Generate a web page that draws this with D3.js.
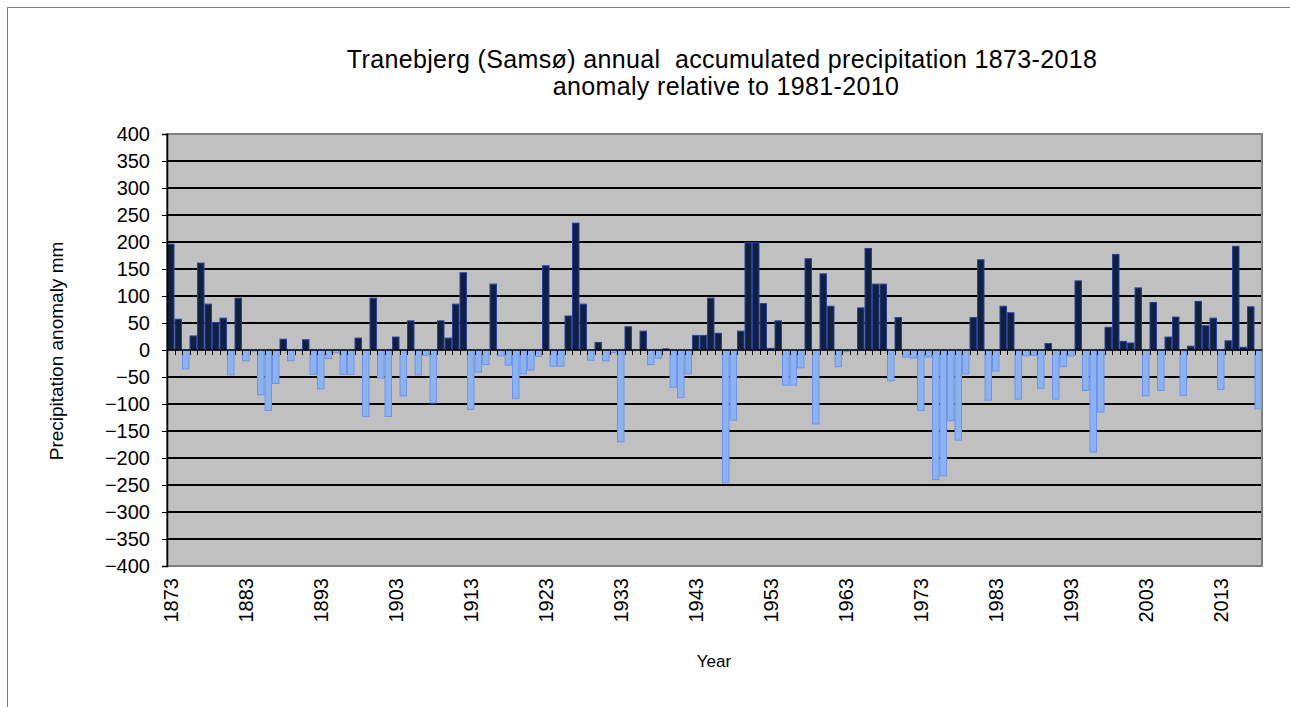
<!DOCTYPE html>
<html>
<head>
<meta charset="utf-8">
<script src="https://cdn.jsdelivr.net/npm/d3@7"></script>
<style>
  body { margin: 0; background: #fff; }
  svg text { font-family: "Liberation Sans", Arial, sans-serif; fill: #000; white-space: pre; }
</style>
</head>
<body>
<div id="chart"></div>
<script>
const firstYear = 1873;
const lastYear = 2018;

// anomaly in mm, 1873..2018
const anomalies = [
  196, 57, -35, 26, 161, 85, 51, 59, -46, 96,
  -20, -2, -83, -112, -62, 20, -20, -1, 19, -45,
  -72, -16, -5, -45, -45, 22, -123, 96, -52, -123,
  24, -85, 54, -46, -10, -98, 54, 22, 85, 143,
  -110, -41, -27, 122, -11, -28, -90, -44, -37, -12,
  156, -30, -30, 63, 235, 85, -19, 14, -20, -5,
  -170, 43, -1, 35, -27, -15, 2, -69, -88, -44,
  27, 27, 96, 31, -246, -130, 35, 199, 199, 86,
  3, 54, -65, -65, -33, 169, -137, 141, 81, -31,
  -3, -1, 78, 188, 122, 122, -57, 60, -13, -15,
  -112, -13, -240, -233, -131, -167, -44, 60, 167, -93,
  -39, 81, 69, -91, -11, -10, -71, 12, -91, -31,
  -11, 128, -75, -189, -115, 42, 177, 16, 13, 115,
  -85, 88, -75, 24, 61, -84, 7, 90, 45, 59,
  -73, 17, 192, 5, 80, -109
];
const years = d3.range(firstYear, lastYear + 1);
const yTicks = d3.range(-400, 401, 50);
const labelYears = d3.range(1873, 2019, 10);

const titleLines = ['Tranebjerg (Samsø) annual  accumulated precipitation 1873-2018', 'anomaly relative to 1981-2010'];

const width = 1290;
const height = 707;
const plot = { left: 167, right: 1262, top: 134, bottom: 566 };

const svg = d3.select('#chart').append('svg')
  .attr('width', width)
  .attr('height', height);

// outer chart frame
svg.append('rect')
  .attr('x', 7.5).attr('y', 7.5)
  .attr('width', width + 10).attr('height', height + 10)
  .attr('fill', 'none')
  .attr('stroke', '#7f7f7f')
  .attr('stroke-width', 1);

const x = d3.scaleBand()
  .domain(years)
  .range([plot.left, plot.right])
  .padding(0);

const y = d3.scaleLinear()
  .domain([-400, 400])
  .range([plot.bottom, plot.top]);

// plot area
svg.append('rect')
  .attr('x', plot.left).attr('y', plot.top)
  .attr('width', plot.right - plot.left)
  .attr('height', plot.bottom - plot.top)
  .attr('fill', '#c0c0c0');

// gridlines
svg.append('g')
  .selectAll('line')
  .data(yTicks.filter(d => d !== -400 && d !== 400 && d !== 0))
  .join('line')
  .attr('x1', plot.left).attr('x2', plot.right)
  .attr('y1', d => y(d)).attr('y2', d => y(d))
  .attr('stroke', '#000')
  .attr('stroke-width', 2);

// plot border
svg.append('path')
  .attr('d', `M${plot.left},${plot.top}H${plot.right}V${plot.bottom}H${plot.left}Z`)
  .attr('fill', 'none')
  .attr('stroke', '#808080')
  .attr('stroke-width', 2);

// bars
svg.append('g')
  .selectAll('rect')
  .data(years.map((yr, i) => [yr, anomalies[i]]))
  .join('rect')
  .attr('x', d => x(d[0]) + 0.5)
  .attr('width', x.bandwidth() - 1)
  .attr('y', d => y(Math.max(0, d[1])))
  .attr('height', d => Math.max(0.5, Math.abs(y(d[1]) - y(0))))
  .attr('fill', d => d[1] >= 0 ? '#10213f' : '#8db3ee')
  .attr('stroke', d => d[1] >= 0 ? '#2a3fa0' : '#6f93f0')
  .attr('stroke-width', 1);

// zero line
svg.append('line')
  .attr('x1', plot.left).attr('x2', plot.right)
  .attr('y1', y(0)).attr('y2', y(0))
  .attr('stroke', '#000')
  .attr('stroke-width', 1.5);

// x category ticks on zero line
svg.append('g')
  .selectAll('line')
  .data(years.slice(1))
  .join('line')
  .attr('x1', d => Math.round(x(d)) + 0.5)
  .attr('x2', d => Math.round(x(d)) + 0.5)
  .attr('y1', y(0)).attr('y2', y(0) + 5)
  .attr('stroke', '#000')
  .attr('stroke-width', 1);

// y axis
const yAxis = svg.append('g')
  .attr('transform', `translate(${plot.left},0)`)
  .call(d3.axisLeft(y).tickValues(yTicks).tickSize(5).tickPadding(12));
yAxis.select('.domain').attr('stroke', '#000').attr('stroke-width', 1.5);
yAxis.selectAll('.tick line').attr('stroke', '#000');
yAxis.selectAll('.tick text')
  .style('font-size', '20px')
  .style('font-family', '"Liberation Sans", Arial, sans-serif');

// x labels
svg.append('g')
  .selectAll('text')
  .data(labelYears)
  .join('text')
  .attr('transform', d => `translate(${x(d) + x.bandwidth() / 2 + 7},${plot.bottom + 12}) rotate(-90)`)
  .attr('text-anchor', 'end')
  .style('font-size', '20px')
  .text(d => d);

// title
svg.append('text')
  .attr('x', 722).attr('y', 68)
  .attr('text-anchor', 'middle')
  .style('font-size', '25px')
  .style('letter-spacing', '0.35px')
  .text(titleLines[0]);
svg.append('text')
  .attr('x', 726).attr('y', 95)
  .attr('text-anchor', 'middle')
  .style('font-size', '25px')
  .style('letter-spacing', '0.35px')
  .text(titleLines[1]);

// axis titles
svg.append('text')
  .attr('transform', `translate(63,${(plot.top + plot.bottom) / 2 + 1}) rotate(-90)`)
  .attr('text-anchor', 'middle')
  .style('font-size', '19px')
  .text('Precipitation anomaly mm');

svg.append('text')
  .attr('x', 714).attr('y', 667)
  .attr('text-anchor', 'middle')
  .style('font-size', '17px')
  .text('Year');
</script>
</body>
</html>
